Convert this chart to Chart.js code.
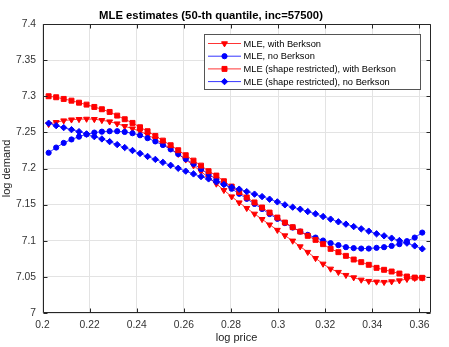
<!DOCTYPE html>
<html><head><meta charset="utf-8">
<script src="https://cdn.jsdelivr.net/npm/chart.js@4/dist/chart.umd.min.js"></script>
<style>html,body{margin:0;padding:0;background:#fff;overflow:hidden}#wrap{width:449px;height:347px;position:relative}</style>
</head><body><div id="wrap"><canvas id="c" width="449" height="347"></canvas></div>
<script>
const titleText = "MLE estimates (50-th quantile, inc=57500)";
const xLabel = "log price";
const yLabel = "log demand";
const seriesNames = ["MLE, with Berkson", "MLE, no Berkson", "MLE (shape restricted), with Berkson", "MLE (shape restricted), no Berkson"];
const xTicks = [0.2, 0.22, 0.24, 0.26, 0.28, 0.3, 0.32, 0.34, 0.36];
const yTicks = [7, 7.05, 7.1, 7.15, 7.2, 7.25, 7.3, 7.35, 7.4];
const logPrice = [0.2026, 0.2058, 0.2090, 0.2123, 0.2155, 0.2187, 0.2220, 0.2252, 0.2285, 0.2317,
  0.2349, 0.2382, 0.2414, 0.2446, 0.2479, 0.2511, 0.2544, 0.2576, 0.2608, 0.2641,
  0.2673, 0.2705, 0.2738, 0.2770, 0.2803, 0.2835, 0.2867, 0.2900, 0.2932, 0.2964,
  0.2997, 0.3029, 0.3062, 0.3094, 0.3126, 0.3159, 0.3191, 0.3223, 0.3256, 0.3288,
  0.3321, 0.3353, 0.3385, 0.3418, 0.3450, 0.3482, 0.3515, 0.3547, 0.3580, 0.3612];
const mleBerkson = [7.2613, 7.2640, 7.2663, 7.2676, 7.2682, 7.2686, 7.2682, 7.2668, 7.2649, 7.2621,
  7.2585, 7.2552, 7.2516, 7.2466, 7.2408, 7.2344, 7.2274, 7.2200, 7.2122, 7.2041,
  7.1958, 7.1873, 7.1788, 7.1700, 7.1611, 7.1528, 7.1451, 7.1372, 7.1298, 7.1222,
  7.1148, 7.1072, 7.0999, 7.0920, 7.0843, 7.0758, 7.0680, 7.0611, 7.0566, 7.0524,
  7.0491, 7.0459, 7.0441, 7.0432, 7.0427, 7.0436, 7.0449, 7.0469, 7.0483, 7.0487];
const mleNoBerkson = [7.2218, 7.2290, 7.2354, 7.2402, 7.2441, 7.2472, 7.2497, 7.2510, 7.2516, 7.2516,
  7.2506, 7.2488, 7.2460, 7.2420, 7.2375, 7.2325, 7.2265, 7.2200, 7.2130, 7.2064,
  7.1992, 7.1922, 7.1850, 7.1785, 7.1720, 7.1650, 7.1580, 7.1510, 7.1440, 7.1370,
  7.1303, 7.1244, 7.1183, 7.1127, 7.1082, 7.1044, 7.1003, 7.0967, 7.0939, 7.0911,
  7.0898, 7.0892, 7.0892, 7.0902, 7.0911, 7.0929, 7.0953, 7.0994, 7.1044, 7.1113];
const srBerkson = [7.3000, 7.2986, 7.2963, 7.2939, 7.2911, 7.2884, 7.2852, 7.2820, 7.2783, 7.2732,
  7.2682, 7.2631, 7.2571, 7.2516, 7.2451, 7.2386, 7.2322, 7.2253, 7.2184, 7.2109,
  7.2040, 7.1963, 7.1902, 7.1824, 7.1750, 7.1675, 7.1600, 7.1530, 7.1460, 7.1390,
  7.1321, 7.1252, 7.1188, 7.1127, 7.1068, 7.1012, 7.0953, 7.0888, 7.0842, 7.0791,
  7.0740, 7.0704, 7.0667, 7.0625, 7.0598, 7.0574, 7.0546, 7.0505, 7.0490, 7.0487];
const srNoBerkson = [7.2627, 7.2593, 7.2566, 7.2538, 7.2510, 7.2479, 7.2441, 7.2409, 7.2372, 7.2331,
  7.2290, 7.2249, 7.2208, 7.2167, 7.2126, 7.2085, 7.2044, 7.2003, 7.1963, 7.1925,
  7.1888, 7.1856, 7.1815, 7.1778, 7.1741, 7.1714, 7.1680, 7.1645, 7.1611, 7.1575,
  7.1538, 7.1497, 7.1465, 7.1437, 7.1404, 7.1372, 7.1335, 7.1299, 7.1262, 7.1230,
  7.1196, 7.1165, 7.1133, 7.1096, 7.1068, 7.1036, 7.1003, 7.0967, 7.0929, 7.0888];

const RED = '#ff0000', BLUE = '#0000ff';
const FONT = '"Liberation Sans", Arial, Helvetica, sans-serif';
const AXC = '#262626';

function pts(arr) { return logPrice.map((x, i) => ({ x: x, y: arr[i] })); }
function ds(label, arr, color, style, radius, rotation, order) {
  return {
    label: label, data: pts(arr), borderColor: color, backgroundColor: color,
    borderWidth: 0.8, pointStyle: style, pointRadius: radius, pointRotation: rotation,
    pointBorderWidth: 1, pointBackgroundColor: color, pointBorderColor: color,
    tension: 0, fill: false, order: order, showLine: true
  };
}

const datasets = [
  ds(seriesNames[0], mleBerkson, RED, 'triangle', 3.4, 180, 3),
  ds(seriesNames[1], mleNoBerkson, BLUE, 'circle', 2.6, 0, 2),
  ds(seriesNames[2], srBerkson, RED, 'rect', 3.5, 0, 1),
  ds(seriesNames[3], srNoBerkson, BLUE, 'rectRot', 3.2, 0, 0)
];

const boxPlugin = {
  id: 'boxPlugin',
  afterDraw(chart) {
    const ctx = chart.ctx, a = chart.chartArea;
    const xs = chart.scales.x, ys = chart.scales.y;
    ctx.save();
    ctx.strokeStyle = AXC; ctx.lineWidth = 1;
    const L = Math.round(a.left) + 0.5, R = Math.round(a.right) - 0.5, T = Math.round(a.top) + 0.5, B = Math.round(a.bottom) - 0.5;
    ctx.beginPath();
    ctx.rect(L, T, R - L, B - T);
    xTicks.forEach(v => {
      const px = Math.round(xs.getPixelForValue(v)) + 0.5;
      ctx.moveTo(px, B); ctx.lineTo(px, B - 4);
      ctx.moveTo(px, T); ctx.lineTo(px, T + 4);
    });
    yTicks.forEach(v => {
      const py = Math.round(ys.getPixelForValue(v)) + 0.5;
      ctx.moveTo(L, py); ctx.lineTo(L + 4, py);
      ctx.moveTo(R, py); ctx.lineTo(R - 4, py);
    });
    ctx.stroke();
    ctx.fillStyle = '#000';
    ctx.font = 'bold 11.3px ' + FONT;
    ctx.textAlign = 'center'; ctx.textBaseline = 'middle';
    ctx.fillText(titleText, 211, 15.5);
    const bx = 204.5, by = 34.5, bw = 216, bh = 55;
    ctx.fillStyle = '#fff';
    ctx.fillRect(bx, by, bw, bh);
    ctx.strokeStyle = '#555';
    ctx.strokeRect(bx, by, bw, bh);
    ctx.font = '9.3px ' + FONT;
    ctx.textAlign = 'left'; ctx.textBaseline = 'middle';
    chart.data.datasets.forEach((d, i) => {
      const yy = 43.5 + i * 12.7;
      ctx.strokeStyle = d.borderColor; ctx.lineWidth = 0.8;
      ctx.beginPath(); ctx.moveTo(208, yy); ctx.lineTo(241, yy); ctx.stroke();
      ctx.fillStyle = d.borderColor;
      ctx.lineWidth = 1;
      Chart.helpers.drawPoint(ctx, { pointStyle: d.pointStyle, radius: d.pointRadius, rotation: d.pointRotation, borderWidth: 1 }, 224.5, yy);
      ctx.fillStyle = '#000';
      ctx.fillText(d.label, 243.5, yy + 0.5);
    });
    ctx.restore();
  }
};

new Chart(document.getElementById('c'), {
  type: 'line',
  data: { datasets: datasets },
  options: {
    responsive: false, animation: false, devicePixelRatio: 1,
    layout: { padding: { left: 0, right: 18.5, top: 24, bottom: 0 } },
    plugins: { legend: { display: false }, title: { display: false }, tooltip: { enabled: false } },
    scales: {
      x: {
        type: 'linear', min: 0.2, max: 0.3647,
        afterBuildTicks: s => { s.ticks = xTicks.map(v => ({ value: v })); },
        afterFit: s => { s.height = 34; },
        ticks: { callback: v => String(v), font: { family: FONT, size: 10.3 }, color: '#333', padding: 5.5, maxRotation: 0, autoSkip: false },
        grid: { color: '#e3e3e3', drawTicks: false, lineWidth: 1 },
        border: { display: false },
        title: { display: true, text: xLabel, font: { family: FONT, size: 11 }, color: '#222', padding: { top: 0, bottom: 2 } }
      },
      y: {
        type: 'linear', min: 7, max: 7.4,
        afterBuildTicks: s => { s.ticks = yTicks.map(v => ({ value: v })); },
        afterFit: s => { s.width = 42.5; },
        ticks: { callback: v => String(v), font: { family: FONT, size: 10.3 }, color: '#333', padding: 6.5, autoSkip: false },
        grid: { color: '#e3e3e3', drawTicks: false, lineWidth: 1 },
        border: { display: false },
        title: { display: true, text: yLabel, font: { family: FONT, size: 11 }, color: '#222', padding: { top: 0, bottom: 0 } }
      }
    }
  },
  plugins: [boxPlugin]
});
</script></body></html>
